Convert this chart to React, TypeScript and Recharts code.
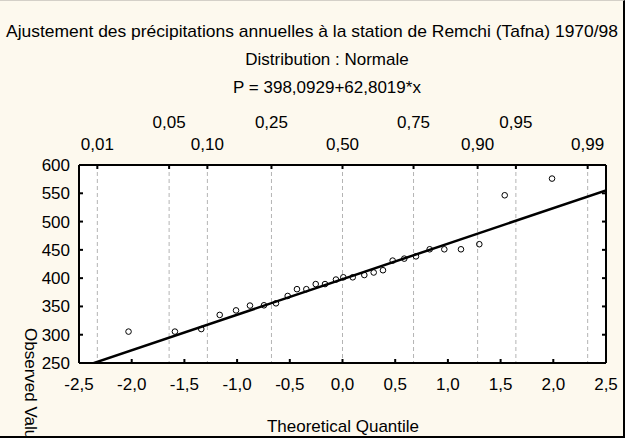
import React from 'react';
import { ScatterChart, Scatter, XAxis, YAxis, CartesianGrid, ReferenceLine } from 'recharts';

// theoretical quantile (x) and observed annual rainfall in mm (y), sorted
const theoreticalQuantile = [
  -2.03, -1.59, -1.34, -1.165, -1.01, -0.878, -0.745, -0.631, -0.52, -0.432,
  -0.343, -0.254, -0.166, -0.062, 0.008, 0.097, 0.207, 0.296, 0.384, 0.476,
  0.586, 0.697, 0.827, 0.966, 1.124, 1.298, 1.539, 1.988,
];
const observedValue = [
  305.5, 305.5, 310, 335, 343, 351.5, 352, 355.5, 368.5, 380.5,
  380.5, 389.5, 389.5, 397.5, 401.5, 401.5, 405.5, 410, 414, 431,
  434.5, 438.5, 451, 451, 451, 460, 546.5, 576,
];

// fitted line P = 398,0929 + 62,8019*x, at both ends of the axis
const fitX = [-2.5, 2.5];
const fitY = [241.09, 555.1];

const xTicks = [-2.5, -2, -1.5, -1, -0.5, 0, 0.5, 1, 1.5, 2, 2.5];
const yTicks = [250, 300, 350, 400, 450, 500, 550, 600];
const probLabels = ['0,01', '0,05', '0,10', '0,25', '0,50', '0,75', '0,90', '0,95', '0,99'];
const probQuantiles = [-2.326, -1.645, -1.282, -0.674, 0, 0.674, 1.282, 1.645, 2.326];

const title = 'Ajustement des précipitations annuelles à la station de Remchi (Tafna) 1970/98';
const subtitle = 'Distribution : Normale';
const equation = 'P = 398,0929+62,8019*x';

const font = "'Liberation Sans', Arial, sans-serif";
const comma = (v: number) => v.toFixed(1).replace('.', ',');

const data = theoreticalQuantile.map((x, i) => ({ x, y: observedValue[i] }));

const BottomTick = (props: any) => (
  <text x={props.x} y={props.y + 31} textAnchor="middle" fontSize={17} fontFamily={font} fill="#000">
    {comma(props.payload.value)}
  </text>
);

const LeftTick = (props: any) => (
  <text x={props.x - 13} y={props.y + 6} textAnchor="end" fontSize={17} fontFamily={font} fill="#000">
    {props.payload.value}
  </text>
);

const TopTick = (props: any) => {
  const upper = props.index % 2 === 1;
  return (
    <text x={props.x} y={props.y + (upper ? -41 : -19)} textAnchor="middle" fontSize={17} fontFamily={font} fill="#000">
      {probLabels[props.index]}
    </text>
  );
};

const NoTick = () => <g />;

const axisLine = { stroke: '#000', strokeWidth: 2 };

export default function App() {
  return (
    <div style={{ position: 'absolute', left: 0, top: 0, width: 637, height: 438, background: '#fff' }}>
      <div
        style={{
          position: 'absolute', left: 0, top: 0, width: 625, height: 438, boxSizing: 'border-box',
          background: '#fdf9ee', borderTop: '1px solid #d4d0c8', borderRight: '2px solid #000', borderBottom: '2px solid #000',
        }}
      />
      {/* white plot background behind the transparent chart */}
      <div style={{ position: 'absolute', left: 79, top: 165, width: 527, height: 198, background: '#fff' }} />
      <div style={{ position: 'absolute', left: 0, top: 0 }}>
        <ScatterChart width={623} height={436} margin={{ top: 0, right: 0, bottom: 0, left: 0 }}>
          <CartesianGrid xAxisId="top" yAxisId="right" horizontal={false} stroke="#b4b4b4" strokeDasharray="4 3" fill="#fff" fillOpacity={1} />
          <XAxis
            xAxisId="bottom" dataKey="x" type="number" domain={[-2.5, 2.5]} ticks={xTicks} height={73}
            axisLine={axisLine} tickLine={axisLine} tickSize={-4} tickMargin={0} tick={BottomTick} interval={0}
          />
          <XAxis
            xAxisId="top" dataKey="x" orientation="top" type="number" domain={[-2.5, 2.5]} ticks={probQuantiles} height={165}
            axisLine={axisLine} tickLine={axisLine} tickSize={-4} tickMargin={0} tick={TopTick} interval={0}
          />
          <YAxis
            yAxisId="left" dataKey="y" type="number" domain={[250, 600]} ticks={yTicks} width={79}
            axisLine={axisLine} tickLine={axisLine} tickSize={-4} tickMargin={0} tick={LeftTick} interval={0}
          />
          <YAxis
            yAxisId="right" dataKey="y" orientation="right" type="number" domain={[250, 600]} ticks={yTicks} width={17}
            axisLine={axisLine} tickLine={axisLine} tickSize={-4} tickMargin={0} tick={NoTick} interval={0}
          />
          {/* hidden series so the top and right axes get a scale */}
          <Scatter xAxisId="top" yAxisId="right" data={data} isAnimationActive={false} shape={() => <g />} />
          <ReferenceLine
            xAxisId="bottom" yAxisId="left" ifOverflow="hidden" stroke="#000" strokeWidth={2.5}
            segment={[{ x: fitX[0], y: fitY[0] }, { x: fitX[1], y: fitY[1] }]}
          />
          <Scatter
            xAxisId="bottom" yAxisId="left" data={data} isAnimationActive={false}
            shape={(p: any) => <circle cx={p.cx} cy={p.cy} r={2.8} fill="none" stroke="#000" strokeWidth={1} />}
          />
        </ScatterChart>
      </div>
      <svg width={623} height={436} style={{ position: 'absolute', left: 0, top: 0, pointerEvents: 'none' }} fontFamily={font} fontSize={17}>
        <text x={312} y={37} textAnchor="middle" textLength={612} lengthAdjust="spacingAndGlyphs">{title}</text>
        <text x={327} y={65} textAnchor="middle">{subtitle}</text>
        <text x={327} y={93} textAnchor="middle">{equation}</text>
        <text x={343} y={432} textAnchor="middle">Theoretical Quantile</text>
        <text x={0} y={0} transform="translate(25,328) rotate(90)">Observed Value</text>
      </svg>
    </div>
  );
}
